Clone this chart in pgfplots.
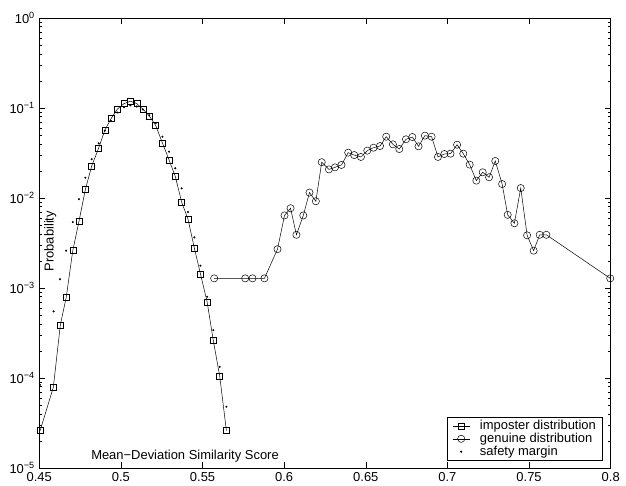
\documentclass[border=0pt]{standalone}
\usepackage{fontspec}
\setmainfont{Liberation Sans}
\usepackage{pgfplots}
\pgfplotsset{compat=1.18}

\pgfplotstableread{
x y
0.4505 2.6e-5
0.4586 7.9e-5
0.4629 3.9e-4
0.4665 7.9e-4
0.4705 2.6e-3
0.4743 5.5e-3
0.4782 1.24e-2
0.4821 2.27e-2
0.4864 3.6e-2
0.4901 5.65e-2
0.4939 7.6e-2
0.4978 9.7e-2
0.5019 0.112
0.5058 0.119
0.5097 0.112
0.5135 0.097
0.5174 0.0815
0.5213 0.064
0.5254 0.041
0.5295 0.0264
0.5333 0.0174
0.5372 9.0e-3
0.5411 5.8e-3
0.5450 2.76e-3
0.5487 1.44e-3
0.5528 7.0e-4
0.5566 2.6e-4
0.5605 1.05e-4
0.5646 2.6e-5
}\imposter

\pgfplotstableread{
x y
0.5571 1.28e-3
0.5761 1.28e-3
0.5806 1.28e-3
0.5879 1.28e-3
0.5959 2.7e-3
0.6002 6.4e-3
0.6039 7.7e-3
0.6075 3.9e-3
0.6117 6.4e-3
0.6155 1.15e-2
0.6194 9.2e-3
0.6230 2.5e-2
0.6274 2.08e-2
0.6311 2.19e-2
0.6351 2.33e-2
0.6392 3.19e-2
0.6429 3.0e-2
0.6470 2.86e-2
0.6509 3.36e-2
0.6547 3.62e-2
0.6587 3.78e-2
0.6625 4.8e-2
0.6666 3.95e-2
0.6705 3.5e-2
0.6746 4.49e-2
0.6785 4.76e-2
0.6823 3.75e-2
0.6862 4.93e-2
0.6903 4.8e-2
0.6942 2.86e-2
0.6981 3.08e-2
0.7019 3.11e-2
0.7059 3.91e-2
0.7097 3.11e-2
0.7136 2.35e-2
0.7177 1.56e-2
0.7216 1.93e-2
0.7255 1.70e-2
0.7293 2.58e-2
0.7335 1.43e-2
0.7369 6.5e-3
0.7410 5.24e-3
0.7449 1.29e-2
0.7488 3.85e-3
0.7528 2.6e-3
0.7565 3.9e-3
0.7606 3.9e-3
0.7997 1.28e-3
}\genuine

\pgfplotstableread{
x y
0.4504 8.4e-5
0.4588 5.5e-4
0.4627 1.25e-3
0.4664 2.6e-3
0.4705 5.4e-3
0.4743 9.7e-3
0.4782 1.68e-2
0.4821 2.7e-2
0.4864 4.05e-2
0.4901 5.6e-2
0.4939 7.2e-2
0.4978 8.9e-2
0.5019 1.02e-1
0.5058 1.07e-1
0.5097 1.04e-1
0.5135 9.6e-2
0.5174 8.3e-2
0.5213 6.8e-2
0.5254 4.8e-2
0.5295 3.27e-2
0.5333 2.14e-2
0.5372 1.28e-2
0.5411 7.0e-3
0.5450 3.65e-3
0.5487 1.77e-3
0.5528 8.0e-4
0.5566 3.4e-4
0.5605 1.33e-4
0.5646 4.8e-5
}\safety

\begin{document}
\begin{tikzpicture}
\begin{axis}[
  width=571.4bp, height=450bp,
  scale only axis,
  ymode=log,
  xmin=0.45, xmax=0.8,
  ymin=1e-5, ymax=1,
  clip=false,
  xtick={0.45,0.5,0.55,0.6,0.65,0.7,0.75,0.8},
  xticklabels={0.45,0.5,0.55,0.6,0.65,0.7,0.75,0.8},
  ytick={1e-5,1e-4,1e-3,1e-2,1e-1,1},
  yticklabels={10\textsuperscript{−5},10\textsuperscript{−4},10\textsuperscript{−3},10\textsuperscript{−2},10\textsuperscript{−1},10\textsuperscript{0}},
  tick align=inside,
  major tick length=6bp,
  minor tick length=3bp,
  axis line style={line width=0.8pt},
  every tick/.style={black, line width=0.5pt},
  tick label style={font=\fontsize{13}{15}\selectfont},
  xticklabel style={yshift=-1bp},
  yticklabel style={xshift=-1bp},
  xlabel={Mean−Deviation Similarity Score},
  xlabel style={at={(axis description cs:0.255,0.027)}, anchor=center, font=\fontsize{13}{15}\selectfont},
  ylabel={Probability},
  ylabel style={at={(axis description cs:0.019,0.504)}, anchor=center, rotate=0, font=\fontsize{13}{15}\selectfont},
  legend cell align=left,
  legend image post style={line width=0.5pt},
  legend style={at={(axis description cs:0.987,0.0156)}, anchor=south east,
    draw=black, line width=0.8pt, font=\fontsize{13}{15}\selectfont,
    inner xsep=5bp, inner ysep=1.5bp, row sep=-2bp,
    /tikz/every odd column/.append style={column sep=8bp}},
]
\coordinate (O) at (rel axis cs:0,0);
\addplot[black, line width=0.5pt, mark=square, mark size=3bp, mark options={line width=0.5pt}] table {\imposter};
\addlegendentry{imposter distribution}
\addplot[black, line width=0.5pt, mark=o, mark size=3.6bp, mark options={line width=0.5pt}] table {\genuine};
\addlegendentry{genuine distribution}
\addplot[black, only marks, mark=*, mark size=0.8bp] table {\safety};
\addlegendentry{safety margin}
\end{axis}
\pgfresetboundingbox
\useasboundingbox (O) ++(-39.3bp,-18bp) rectangle ++(626bp,486bp);
\end{tikzpicture}
\end{document}
